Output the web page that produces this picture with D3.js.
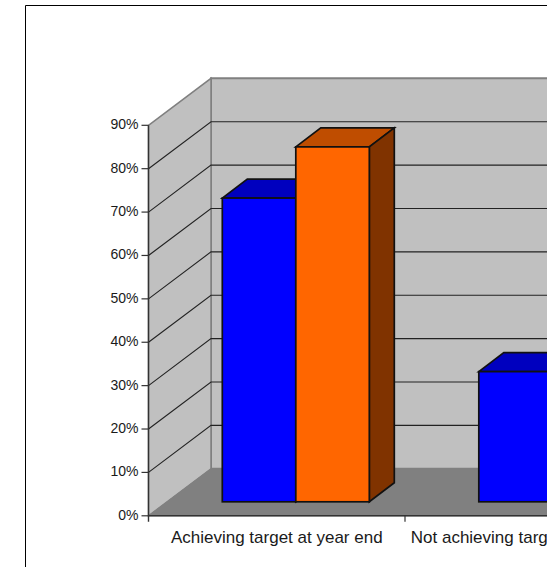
<!DOCTYPE html>
<html>
<head>
<meta charset="utf-8">
<script src="https://cdn.jsdelivr.net/npm/d3@7/dist/d3.min.js"></script>
<style>
html,body{margin:0;padding:0;background:#fff;}
svg{display:block;}
text{font-family:"Liberation Sans",Arial,sans-serif;fill:#1a1a1a;}
</style>
</head>
<body>
<svg id="chart" width="555" height="567"></svg>
<script>
// Chart data
const categories = ["Achieving target at year end", "Not achieving target at year end"];
const seriesBlue = [70, 30];
const seriesOrange = [81.8, 18.2];
const percentTicks = [0, 10, 20, 30, 40, 50, 60, 70, 80, 90];

// Layout of the 3D box
const viewRight = 547;
const frame = {left: 25.5, top: 5.5, bottom: 567};
const axisX = 148.5;
const floorY = 515.8;
const topY = 125.3;
const depthX = 62.5;    // oblique shift from the front plane to the back wall
const depthY = -47;
const catWidth = 256.5;
const barWidth = 73.5;
const barInset = 73.8;  // first bar's left edge relative to the category start
const barFrontShift = -14;
const barDepth = {x: 25, y: -19};

const y = d3.scaleLinear().domain([0, 90]).range([floorY, topY]);
const x = d3.scaleBand().domain(categories)
  .range([axisX, axisX + catWidth * categories.length]);

const svg = d3.select("#chart");
svg.append("defs").append("clipPath").attr("id", "view")
  .append("rect").attr("x", 0).attr("y", 0).attr("width", viewRight).attr("height", 567);

const root = svg.append("g").attr("clip-path", "url(#view)");
const pts = a => a.map(p => p.join(",")).join(" ");

const wallGrey = "#c0c0c0", edgeGrey = "#808080", gridInk = "#222";
const backLeft = axisX + depthX;

// Back wall, side wall and floor
root.append("polygon")
  .attr("points", pts([[backLeft, y(90) + depthY], [viewRight + 20, y(90) + depthY], [viewRight + 20, y(0) + depthY], [backLeft, y(0) + depthY]]))
  .attr("fill", wallGrey).attr("stroke", edgeGrey).attr("stroke-width", 2);
root.append("polygon")
  .attr("points", pts([[axisX, y(90)], [backLeft, y(90) + depthY], [backLeft, y(0) + depthY], [axisX, y(0)]]))
  .attr("fill", wallGrey).attr("stroke", edgeGrey).attr("stroke-width", 1.5);
root.append("polygon")
  .attr("points", pts([[axisX, y(0)], [backLeft, y(0) + depthY], [viewRight + 20, y(0) + depthY], [viewRight + 20, y(0)]]))
  .attr("fill", edgeGrey).attr("stroke", edgeGrey);

// Gridlines across both walls
const gridTicks = percentTicks.filter(d => d > 0 && d < 90);
root.selectAll("path.grid").data(gridTicks).join("path")
  .attr("class", "grid")
  .attr("fill", "none").attr("stroke", gridInk).attr("stroke-width", 1.1)
  .attr("d", d => `M${axisX},${y(d)}L${backLeft},${y(d) + depthY}L${viewRight + 20},${y(d) + depthY}`);

// A single 3D bar: front face, top face and right side
function drawBar(group, left, value, colors) {
  const bottom = y(0) + barFrontShift;
  const top = y(value) + barFrontShift;
  const right = left + barWidth;
  const g = group.append("g").attr("stroke", "#111").attr("stroke-width", 1.7).attr("stroke-linejoin", "miter");
  g.append("polygon").attr("fill", colors.top)
    .attr("points", pts([[left, top], [left + barDepth.x, top + barDepth.y], [right + barDepth.x, top + barDepth.y], [right, top]]));
  g.append("polygon").attr("fill", colors.side)
    .attr("points", pts([[right, top], [right + barDepth.x, top + barDepth.y], [right + barDepth.x, bottom + barDepth.y], [right, bottom]]));
  g.append("rect").attr("fill", colors.front)
    .attr("x", left).attr("y", top).attr("width", barWidth).attr("height", bottom - top);
}

const blue = {front: "#0000ff", top: "#0000bf", side: "#000080"};
const orange = {front: "#ff6600", top: "#bf4d00", side: "#803300"};
categories.forEach((c, i) => {
  const start = x(c) + barInset;
  drawBar(root, start, seriesBlue[i], blue);
  drawBar(root, start + barWidth, seriesOrange[i], orange);
});

// Value axis
const axisInk = "#333";
root.append("line").attr("x1", axisX).attr("x2", axisX).attr("y1", y(90)).attr("y2", y(0) + 6)
  .attr("stroke", axisInk).attr("stroke-width", 1.4);
root.selectAll("line.ytick").data(percentTicks).join("line").attr("class", "ytick")
  .attr("x1", axisX - 7).attr("x2", axisX).attr("y1", d => y(d)).attr("y2", d => y(d))
  .attr("stroke", axisInk).attr("stroke-width", 1.2);
root.selectAll("text.ylabel").data(percentTicks).join("text").attr("class", "ylabel")
  .attr("x", axisX - 10).attr("y", d => y(d) + 4)
  .attr("text-anchor", "end").attr("font-size", 14).text(d => d + "%");

// Category axis
root.append("line").attr("x1", axisX).attr("x2", viewRight + 20).attr("y1", y(0)).attr("y2", y(0))
  .attr("stroke", axisInk).attr("stroke-width", 1.4);
root.selectAll("line.xtick").data(categories.slice(1)).join("line").attr("class", "xtick")
  .attr("x1", d => x(d)).attr("x2", d => x(d)).attr("y1", y(0)).attr("y2", y(0) + 6)
  .attr("stroke", axisInk).attr("stroke-width", 1.2);
// The longer label sits slightly left of its band centre
const labelNudge = i => (i === 0 ? 0 : -2);
root.selectAll("text.xlabel").data(categories).join("text").attr("class", "xlabel")
  .attr("x", (d, i) => x(d) + x.bandwidth() / 2 + labelNudge(i)).attr("y", 542.6)
  .attr("text-anchor", "middle").attr("font-size", 17).text(d => d);

// Outer frame, open towards the right and bottom
svg.append("path").attr("fill", "none").attr("stroke", "#000").attr("stroke-width", 1)
  .attr("d", `M${frame.left},${frame.bottom}V${frame.top}H${viewRight}`);
</script>
</body>
</html>
